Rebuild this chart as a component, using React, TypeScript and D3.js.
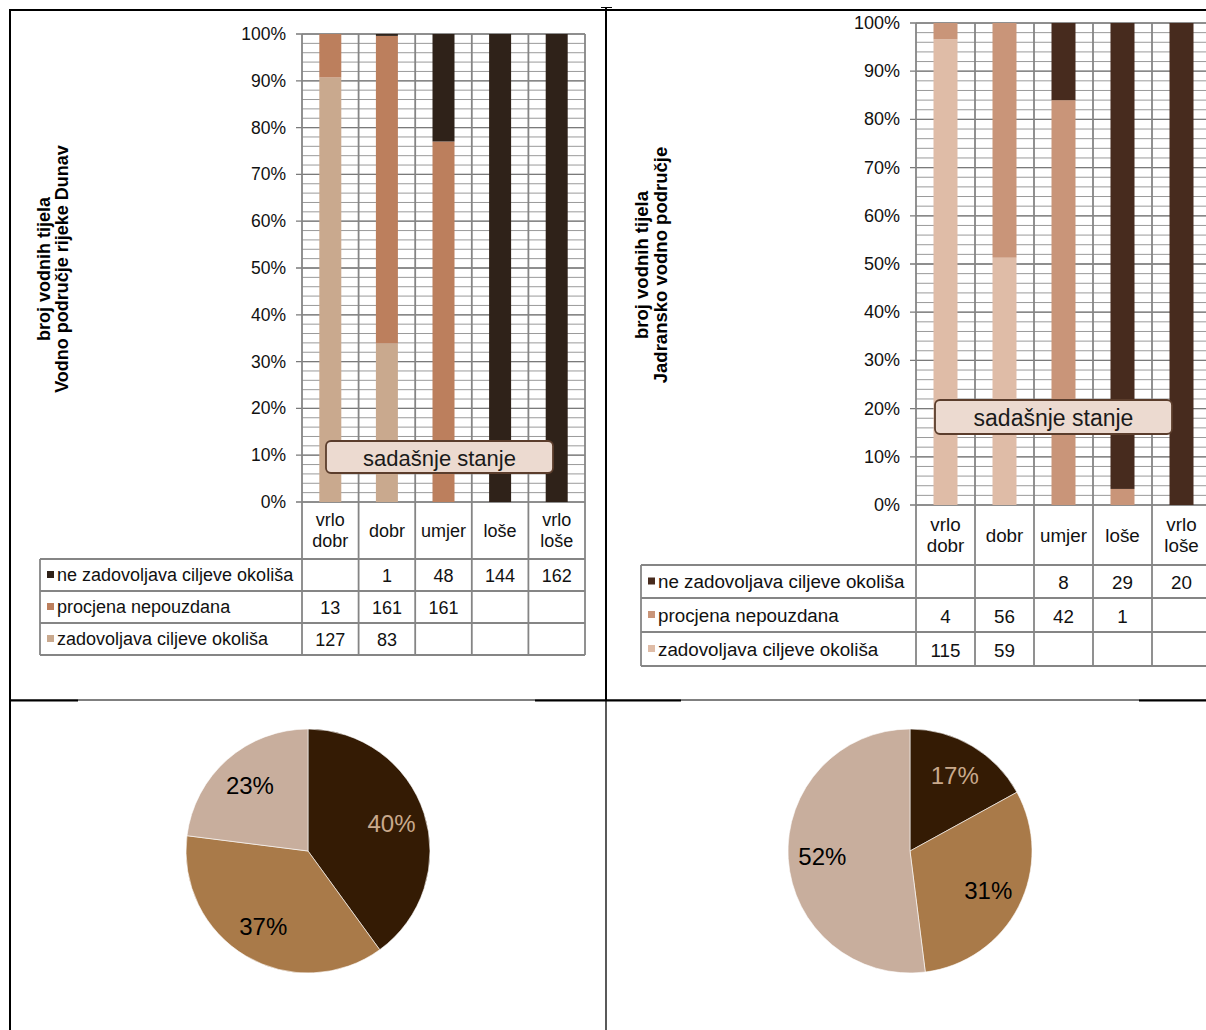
import React from 'react';
import * as d3 from 'd3';

// ---------- data ----------
const categories = ['vrlo dobr', 'dobr', 'umjer', 'loše', 'vrlo loše'];
const categoryLabelLines = [['vrlo', 'dobr'], ['dobr'], ['umjer'], ['loše'], ['vrlo', 'loše']];
const seriesKeys = ['ne', 'proc', 'zad'];
const seriesNames = ['ne zadovoljava ciljeve okoliša', 'procjena nepouzdana', 'zadovoljava ciljeve okoliša'];

const dunavNeZadovoljava = [null, 1, 48, 144, 162];
const dunavProcjena = [13, 161, 161, null, null];
const dunavZadovoljava = [127, 83, null, null, null];

const jadranNeZadovoljava = [null, null, 8, 29, 20];
const jadranProcjena = [4, 56, 42, 1, null];
const jadranZadovoljava = [115, 59, null, null, null];

const dunavTitle = ['broj vodnih tijela', 'Vodno područje rijeke Dunav'];
const jadranTitle = ['broj vodnih tijela', 'Jadransko vodno područje'];
const boxLabel = 'sadašnje stanje';

const dunavPieShares = [40, 37, 23];
const jadranPieShares = [17, 31, 52];

// ---------- styles ----------
const FONT = 'Arial, "Liberation Sans", sans-serif';
const pieColors = ['#341b04', '#a97a49', '#c8ae9d'];
const pieLabelColors = ['#c9a98c', '#000', '#000'];

type Cfg = {
  ne: (number | null)[]; proc: (number | null)[]; zad: (number | null)[];
  colors: { ne: string; proc: string; zad: string };
  axisX: number; plotRight: number; yTop: number; yBottom: number; barW: number;
  tableLeft: number; rowTops: number[]; title: string[]; titleX: number[]; titleY: number; titleFont: number;
  box: { x1: number; x2: number; y1: number; y2: number };
  tickFont: number; tableFont: number; boxFont: number;
};

function BarPanel({ cfg }: { cfg: Cfg }) {
  const rows = categories.map((c, i) => ({
    cat: c,
    zad: cfg.zad[i] ?? 0,
    proc: cfg.proc[i] ?? 0,
    ne: cfg.ne[i] ?? 0,
  }));
  const stack = d3.stack<any>().keys(['zad', 'proc', 'ne']).offset(d3.stackOffsetExpand);
  const layers = stack(rows);
  const x = d3.scaleBand().domain(categories).range([cfg.axisX, cfg.plotRight]).padding(0);
  const y = d3.scaleLinear().domain([0, 1]).range([cfg.yBottom, cfg.yTop]);
  const minor = d3.range(0, 1.0001, 0.02);
  const major = y.ticks(10);
  const fmt = d3.format('.0%');
  const bw = x.bandwidth();
  const edges = categories.map((c) => x(c)!).concat([cfg.plotRight]);
  const tableTop = cfg.rowTops[0];
  const tableBottom = cfg.rowTops[cfg.rowTops.length - 1];
  const series = { ne: cfg.ne, proc: cfg.proc, zad: cfg.zad } as any;
  const colorOf = cfg.colors as any;

  return (
    <g>
      {cfg.title.map((t, i) => (
        <text key={t} transform={`translate(${cfg.titleX[i]},${cfg.titleY}) rotate(-90)`} textAnchor="middle"
          dominantBaseline="central" fontFamily={FONT} fontWeight="bold" fontSize={cfg.titleFont} fill="#000">{t}</text>
      ))}
      {minor.map((v) => (
        <line key={'mi' + v} x1={cfg.axisX} x2={cfg.plotRight} y1={y(v)} y2={y(v)} stroke="#9a9a9a" strokeWidth={1} />
      ))}
      {major.map((v) => (
        <line key={'ma' + v} x1={cfg.axisX - 6} x2={cfg.plotRight} y1={y(v)} y2={y(v)} stroke="#7a7a7a" strokeWidth={1.3} />
      ))}
      {edges.map((ex, i) => (
        <line key={'v' + i} x1={ex} x2={ex} y1={cfg.yTop} y2={tableBottom} stroke="#858585" strokeWidth={1.8} />
      ))}
      {layers.map((layer) => layer.map((d: any, i: number) => {
        const h = y(d[0]) - y(d[1]);
        if (h <= 0.01) return null;
        return <rect key={layer.key + i} x={x(categories[i])! + (bw - cfg.barW) / 2} width={cfg.barW}
          y={y(d[1])} height={h} fill={colorOf[layer.key]} />;
      }))}
      {major.map((v) => (
        <text key={'t' + v} x={cfg.axisX - 16} y={y(v)} textAnchor="end" dominantBaseline="central"
          fontFamily={FONT} fontSize={cfg.tickFont} fill="#111">{fmt(v)}</text>
      ))}
      <rect x={cfg.box.x1} y={cfg.box.y1} width={cfg.box.x2 - cfg.box.x1} height={cfg.box.y2 - cfg.box.y1}
        rx={5} fill="#ecdad0" stroke="#5b3d2c" strokeWidth={1.8} />
      <text x={(cfg.box.x1 + cfg.box.x2) / 2} y={(cfg.box.y1 + cfg.box.y2) / 2 + 1} textAnchor="middle"
        dominantBaseline="central" fontFamily={FONT} fontSize={cfg.boxFont} fill="#1a1a1a">{boxLabel}</text>
      {categoryLabelLines.map((lines, i) => {
        const cx = x(categories[i])! + bw / 2;
        const cy = (cfg.yBottom + tableTop) / 2;
        const lh = cfg.tableFont * 1.15;
        return lines.map((l, j) => (
          <text key={'h' + i + j} x={cx} y={cy + (j - (lines.length - 1) / 2) * lh} textAnchor="middle"
            dominantBaseline="central" fontFamily={FONT} fontSize={cfg.tableFont} fill="#111">{l}</text>
        ));
      })}
      {cfg.rowTops.map((ry, i) => (
        <line key={'r' + i} x1={cfg.tableLeft} x2={cfg.plotRight} y1={ry} y2={ry} stroke="#858585" strokeWidth={1.8} />
      ))}
      <line x1={cfg.tableLeft} x2={cfg.tableLeft} y1={tableTop} y2={tableBottom} stroke="#858585" strokeWidth={1.8} />
      {seriesKeys.map((k, r) => {
        const top = cfg.rowTops[r];
        const mid = (top + cfg.rowTops[r + 1]) / 2;
        return (
          <g key={'row' + k}>
            <rect x={cfg.tableLeft + 7} y={mid - 4} width={7} height={7} fill={colorOf[k]} />
            <text x={cfg.tableLeft + 17} y={mid} dominantBaseline="central" fontFamily={FONT}
              fontSize={cfg.tableFont} fill="#111">{seriesNames[r]}</text>
            {series[k].map((v: number | null, i: number) => v == null ? null : (
              <text key={i} x={x(categories[i])! + bw / 2} y={mid + 1} textAnchor="middle" dominantBaseline="central"
                fontFamily={FONT} fontSize={cfg.tableFont} fill="#111">{v}</text>
            ))}
          </g>
        );
      })}
    </g>
  );
}

function PiePanel({ shares, cx, cy, r }: { shares: number[]; cx: number; cy: number; r: number }) {
  const pie = d3.pie<number>().sort(null).value((d) => d);
  const arcs = pie(shares);
  const arc = d3.arc<d3.PieArcDatum<number>>().innerRadius(0).outerRadius(r);
  const labelArc = d3.arc<d3.PieArcDatum<number>>().innerRadius(r * 0.72).outerRadius(r * 0.72);
  return (
    <g transform={`translate(${cx},${cy})`}>
      {arcs.map((a, i) => (
        <path key={i} d={arc(a)!} fill={pieColors[i]} stroke="#fff" strokeWidth={0.6} />
      ))}
      {arcs.map((a, i) => {
        const [lx, ly] = labelArc.centroid(a);
        return (
          <text key={'l' + i} x={lx} y={ly} textAnchor="middle" dominantBaseline="central" fontFamily={FONT}
            fontSize={24} fill={pieLabelColors[i]}>{a.data + '%'}</text>
        );
      })}
    </g>
  );
}

const dunavCfg: Cfg = {
  ne: dunavNeZadovoljava, proc: dunavProcjena, zad: dunavZadovoljava,
  colors: { ne: '#2f2219', proc: '#bc7f5d', zad: '#c9a98e' },
  axisX: 302, plotRight: 585, yTop: 34, yBottom: 502, barW: 22,
  tableLeft: 40, rowTops: [559, 591, 623, 655], title: dunavTitle, titleX: [44, 62], titleY: 269, titleFont: 18,
  box: { x1: 326, x2: 553, y1: 441, y2: 473 }, tickFont: 17.5, tableFont: 18, boxFont: 22,
};

const jadranCfg: Cfg = {
  ne: jadranNeZadovoljava, proc: jadranProcjena, zad: jadranZadovoljava,
  colors: { ne: '#472b1e', proc: '#c99579', zad: '#dfbca7' },
  axisX: 916, plotRight: 1211, yTop: 23, yBottom: 505, barW: 24,
  tableLeft: 641, rowTops: [565, 598, 632, 666], title: jadranTitle, titleX: [641, 660], titleY: 265, titleFont: 18.5,
  box: { x1: 935, x2: 1172, y1: 400, y2: 434 }, tickFont: 18, tableFont: 18.8, boxFont: 23,
};

export default function App() {
  return (
    <svg width={1206} height={1030} viewBox="0 0 1206 1030"
      style={{ position: 'absolute', left: 0, top: 0, background: '#fff' }}>
      <rect x={0} y={0} width={1206} height={1030} fill="#fff" />
      <BarPanel cfg={dunavCfg} />
      <BarPanel cfg={jadranCfg} />
      <PiePanel shares={dunavPieShares} cx={308} cy={851} r={122} />
      <PiePanel shares={jadranPieShares} cx={910} cy={851} r={122} />
      <line x1={9} x2={1206} y1={10} y2={10} stroke="#000" strokeWidth={2} />
      <line x1={10} x2={10} y1={9} y2={1030} stroke="#000" strokeWidth={2} />
      <line x1={606} x2={606} y1={7} y2={700} stroke="#000" strokeWidth={2} />
      <line x1={606} x2={606} y1={700} y2={1030} stroke="#000" strokeWidth={1.3} />
      <line x1={601} x2={612} y1={7.5} y2={7.5} stroke="#000" strokeWidth={1} />
      <line x1={9} x2={1206} y1={700} y2={700} stroke="#000" strokeWidth={1} />
      <line x1={9} x2={78} y1={700.5} y2={700.5} stroke="#000" strokeWidth={2} />
      <line x1={535} x2={681} y1={700.5} y2={700.5} stroke="#000" strokeWidth={2} />
      <line x1={1139} x2={1206} y1={700.5} y2={700.5} stroke="#000" strokeWidth={2} />
    </svg>
  );
}
